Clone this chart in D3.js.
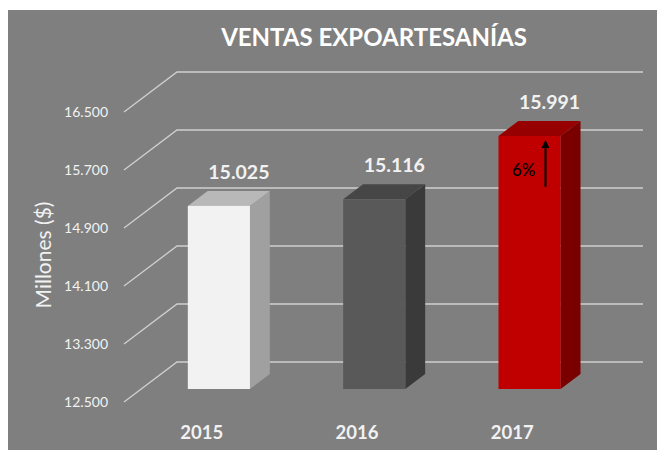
<!DOCTYPE html>
<html>
<head>
<meta charset="utf-8">
<script src="https://cdn.jsdelivr.net/npm/d3@7"></script>
<style>
  body { margin: 0; background: #fff; }
  svg { display: block; }
  text { font-family: Lato, "Open Sans", sans-serif; }
</style>
</head>
<body>
<div id="chart"></div>
<script>
// data
var years = ["2015", "2016", "2017"];
var ventas = [15025, 15116, 15991];
var tickValues = [12500, 13300, 14100, 14900, 15700, 16500];
var tickLabels = ["12.500", "13.300", "14.100", "14.900", "15.700", "16.500"];
var valueLabels = ["15.025", "15.116", "15.991"];
var frontColors = ["#f2f2f2", "#595959", "#c00000"];
var sideColors = ["#a0a0a0", "#3a3a3a", "#7a0000"];
var topColors = ["#b8b8b8", "#464646", "#960000"];
var growthLabel = "6%";

var width = 657, height = 450;

var svg = d3.select("#chart").append("svg")
    .attr("width", width)
    .attr("height", height);

// gray panel
svg.append("rect")
    .attr("x", 8).attr("y", 10)
    .attr("width", width - 8).attr("height", height - 10)
    .attr("fill", "#7f7f7f");

// scales (front plane)
var x = d3.scaleBand()
    .domain(years)
    .range([124, 590])
    .paddingInner(0.6)
    .paddingOuter(0.3);

var y = d3.scaleLinear()
    .domain([12500, 16500])
    .range([402, 112]);

// oblique depth
var depthX = 53, depthY = -40;
function pt(px, v, z) {
    return [px + z * depthX, y(v) + z * depthY];
}

// gridlines: front-left corner -> back wall -> right
var grid = svg.append("g");
tickValues.forEach(function(t) {
    var a = pt(124, t, 0), b = pt(124, t, 1), c = pt(590, t, 1);
    grid.append("polyline")
        .attr("points", [a, b, c].map(function(p) { return p.join(","); }).join(" "))
        .attr("fill", "none")
        .attr("stroke", "#d0d0d0")
        .attr("stroke-width", 1.3);
});

// tick labels
svg.append("g").selectAll("text")
    .data(tickValues)
    .enter().append("text")
    .attr("x", 108)
    .attr("y", function(d) { return y(d) + 5; })
    .attr("text-anchor", "end")
    .attr("fill", "#f2f2f2")
    .style("font-size", "14px")
    .text(function(d, i) { return tickLabels[i]; });

// axis title
svg.append("text")
    .attr("transform", "translate(51,255) rotate(-90)")
    .attr("text-anchor", "middle")
    .attr("fill", "#f2f2f2")
    .style("font-size", "21px")
    .text("Millones ($)");

// title
svg.append("text")
    .attr("x", 374)
    .attr("y", 46)
    .attr("text-anchor", "middle")
    .attr("fill", "#ffffff")
    .style("font-size", "24px")
    .style("font-weight", "bold")
    .text("VENTAS EXPOARTESANÍAS");

// bars
var zFront = 0.325, zBack = 0.7;
var base = tickValues[0];
var bars = svg.append("g");
years.forEach(function(yr, i) {
    var v = ventas[i];
    var x0 = x(yr), x1 = x(yr) + x.bandwidth();
    var fTL = pt(x0, v, zFront), fTR = pt(x1, v, zFront), fBR = pt(x1, base, zFront);
    var bTL = pt(x0, v, zBack), bTR = pt(x1, v, zBack), bBR = pt(x1, base, zBack);
    function poly(pts) { return pts.map(function(p) { return p.join(","); }).join(" "); }
    // side
    bars.append("polygon")
        .attr("points", poly([fTR, bTR, bBR, fBR]))
        .attr("fill", sideColors[i]);
    // top
    bars.append("polygon")
        .attr("points", poly([fTL, bTL, bTR, fTR]))
        .attr("fill", topColors[i]);
    // front
    bars.append("rect")
        .attr("x", fTL[0]).attr("y", fTL[1])
        .attr("width", x.bandwidth())
        .attr("height", fBR[1] - fTL[1])
        .attr("fill", frontColors[i]);
    // value label
    bars.append("text")
        .attr("x", (fTL[0] + fTR[0]) / 2 + 20)
        .attr("y", bTL[1] - 12)
        .attr("text-anchor", "middle")
        .attr("fill", "#f2f2f2")
        .style("font-size", "19.5px")
        .style("font-weight", "bold")
        .text(valueLabels[i]);
});

// category labels
svg.append("g").selectAll("text")
    .data(years)
    .enter().append("text")
    .attr("x", function(d) { return x(d) + x.bandwidth() / 2; })
    .attr("y", 439)
    .attr("text-anchor", "middle")
    .attr("fill", "#f2f2f2")
    .style("font-size", "18.5px")
    .style("font-weight", "bold")
    .text(function(d) { return d; });

// growth annotation on last bar
var last = years.length - 1;
var topFront = pt(x(years[last]), ventas[last], zFront);
var arrowX = topFront[0] + 47;
svg.append("defs").append("marker")
    .attr("id", "arrow")
    .attr("viewBox", "0 0 10 10")
    .attr("refX", 5).attr("refY", 5)
    .attr("markerWidth", 4).attr("markerHeight", 4)
    .attr("orient", "auto")
    .append("path")
    .attr("d", "M0,0 L10,5 L0,10 z")
    .attr("fill", "#000");
svg.append("line")
    .attr("x1", arrowX).attr("x2", arrowX)
    .attr("y1", topFront[1] + 51)
    .attr("y2", topFront[1] + 8)
    .attr("stroke", "#000")
    .attr("stroke-width", 2)
    .attr("marker-end", "url(#arrow)");
svg.append("text")
    .attr("x", arrowX - 10)
    .attr("y", topFront[1] + 40)
    .attr("text-anchor", "end")
    .attr("fill", "#000")
    .style("font-size", "17px")
    .style("font-weight", "500")
    .text(growthLabel);
</script>
</body>
</html>
